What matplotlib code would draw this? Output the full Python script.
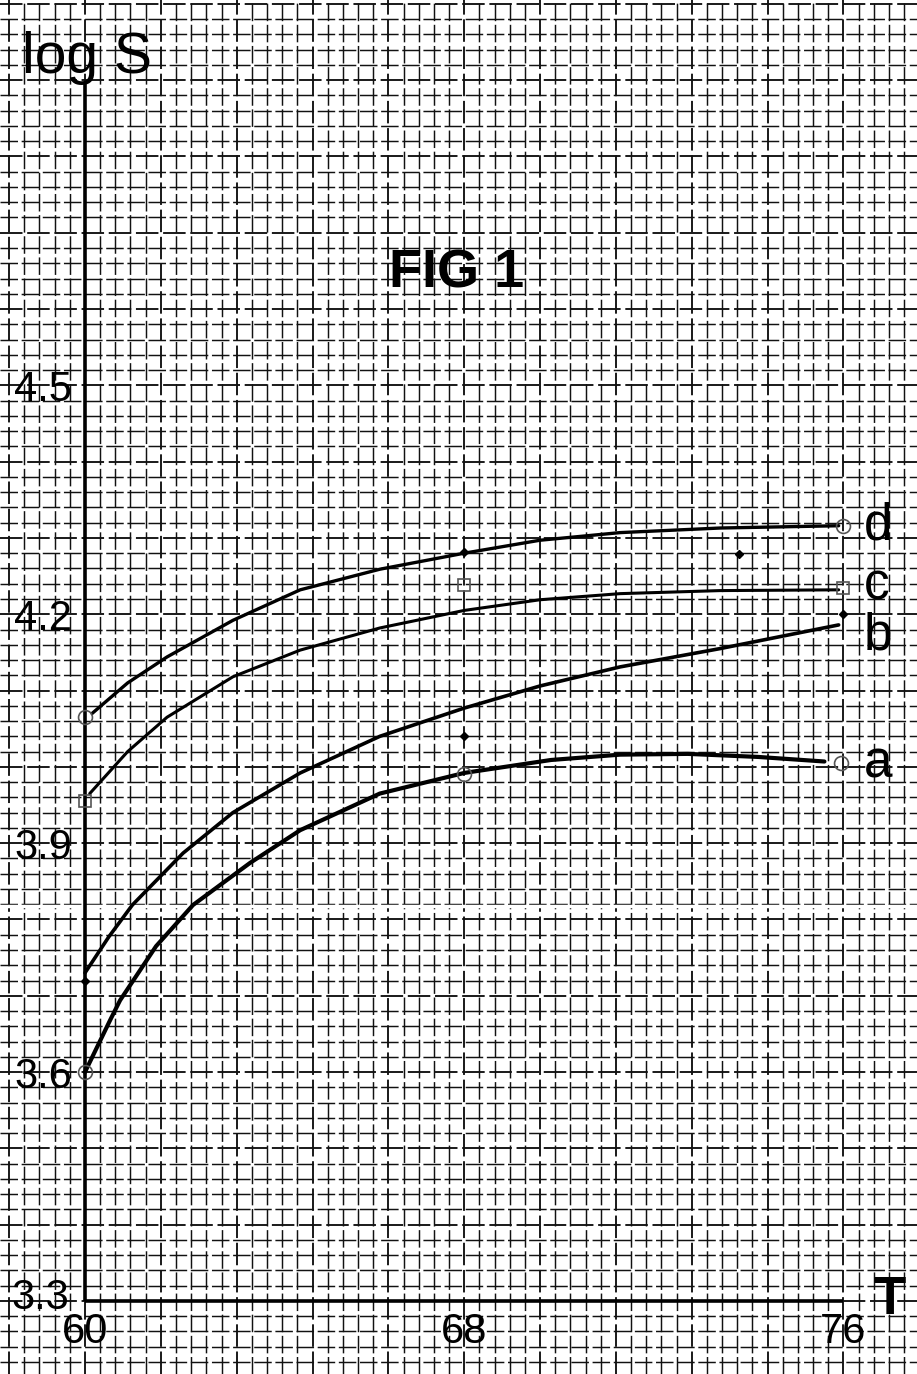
import numpy as np
import matplotlib
matplotlib.use("Agg")
import matplotlib.pyplot as plt

# ---------------- data ----------------
x_ticks = [60, 68, 76]
x_tick_labels = ["60", "68", "76"]
y_ticks = [3.3, 3.6, 3.9, 4.2, 4.5]
y_tick_labels = ["3.3", "3.6", "3.9", "4.2", "4.5"]

curve_names = ["a", "b", "c", "d"]

a_T = [60.0, 60.53, 60.74, 61.5, 62.28, 63.48, 64.54, 66.22, 68.0, 69.83, 71.29, 72.72, 74.2, 75.6]
a_S = [3.60, 3.668, 3.694, 3.765, 3.819, 3.874, 3.917, 3.965, 3.992, 4.009, 4.016, 4.017, 4.013, 4.007]

b_T = [60.0, 60.5, 61.0, 62.07, 63.12, 64.54, 66.22, 68.0, 69.6, 71.29, 73.4, 75.9]
b_S = [3.73, 3.777, 3.819, 3.887, 3.94, 3.992, 4.04, 4.077, 4.106, 4.131, 4.155, 4.186]

c_T = [60.1, 60.9, 61.73, 63.12, 64.54, 66.22, 68.0, 69.6, 71.29, 73.4, 75.9]
c_S = [3.965, 4.02, 4.065, 4.118, 4.153, 4.182, 4.205, 4.219, 4.227, 4.231, 4.232]

d_T = [60.15, 60.9, 61.73, 63.12, 64.54, 66.22, 68.0, 69.6, 71.29, 73.4, 75.9]
d_S = [4.07, 4.11, 4.144, 4.192, 4.232, 4.259, 4.28, 4.297, 4.307, 4.313, 4.316]

# measured points
circle_T = [60.0, 76.0, 60.0, 68.0, 75.95]
circle_S = [4.065, 4.316, 3.60, 3.99, 4.005]
square_T = [60.0, 68.0, 76.0]
square_S = [3.955, 4.238, 4.234]
dot_T = [68.0, 60.0, 68.0, 76.0, 73.8]
dot_S = [4.282, 3.72, 4.04, 4.20, 4.279]

# ---------------- figure ----------------
W, H = 917, 1374
fig = plt.figure(figsize=(W / 100, H / 100), dpi=100)
fig.patch.set_facecolor("white")
ax = fig.add_axes([0, 0, 1, 1])
X0, X1 = 58.207, 77.553
Y0, Y1 = 3.2043, 5.005
ax.set_xlim(X0, X1)
ax.set_ylim(Y0, Y1)
ax.axis("off")

# graph paper
xg_step, yg_step = 0.32, 0.02
k0 = int(np.floor((X0 - 60) / xg_step)) - 1
k1 = int(np.ceil((X1 - 60) / xg_step)) + 1
for k in range(k0, k1 + 1):
    xv = 60 + k * xg_step
    major = (k % 5 == 0)
    ax.axvline(xv, color="#111111", lw=1.35 if major else 1.05,
               ls=(0, (12, 2.5)), zorder=1)
j0 = int(np.floor((Y0 - 3.3) / yg_step)) - 1
j1 = int(np.ceil((Y1 - 3.3) / yg_step)) + 1
for j in range(j0, j1 + 1):
    yv = 3.3 + j * yg_step
    major = (j % 5 == 0)
    ax.axhline(yv, color="#111111", lw=1.35 if major else 1.05,
               ls=(0, (12, 2.5)), zorder=1)

# paper fold artefact
ax.axhline(3.818, color="white", lw=2.5, zorder=1.5)

# axes lines
ax.plot([60, 60], [3.3, 4.898], color="black", lw=2.6, zorder=3, solid_capstyle="butt")
ax.plot([60, 76], [3.3, 3.3], color="black", lw=2.6, zorder=3, solid_capstyle="butt")

# curves
for T, S, lw in [(a_T, a_S, 3.0), (b_T, b_S, 2.6), (c_T, c_S, 2.2), (d_T, d_S, 2.4)]:
    ax.plot(T, S, color="black", lw=lw, zorder=4, solid_capstyle="round",
            solid_joinstyle="round")

ax.plot(circle_T, circle_S, ls="none", marker="o", ms=10, mfc="none",
        mec="#555555", mew=1.2, zorder=5)
ax.plot(square_T, square_S, ls="none", marker="s", ms=9, mfc="none",
        mec="#555555", mew=1.2, zorder=5)
ax.plot(dot_T, dot_S, ls="none", marker="D", ms=4, color="black", zorder=5)

FONT = "Liberation Sans"

def px(x, y):
    return (x / W, 1 - y / H)

# tick labels
for v, lab in zip(y_ticks, y_tick_labels):
    yy = 1301 - (v - 3.3) * 763
    if v == 3.3:
        ax.text(*px(40, 1298), lab, transform=fig.transFigure, ha="center", va="center",
                fontsize=30, family=FONT, zorder=6)
    else:
        ax.text(*px(43, yy + 5), lab, transform=fig.transFigure, ha="center", va="center",
                fontsize=30, family=FONT, zorder=6)
for v, lab in zip(x_ticks, x_tick_labels):
    xx = 85 + (v - 60) * 47.375
    ax.text(*px(xx, 1332), lab, transform=fig.transFigure, ha="center", va="center",
            fontsize=30, family=FONT, zorder=6)

ax.text(*px(22, 58), "log S", transform=fig.transFigure, ha="left", va="center",
        fontsize=41, family=FONT, zorder=6)
ax.text(*px(890, 1300), "T", transform=fig.transFigure, ha="center", va="center",
        fontsize=38, family=FONT, fontweight="bold", zorder=6)
ax.text(*px(457, 274), "FIG 1", transform=fig.transFigure, ha="center", va="center",
        fontsize=39, family=FONT, fontweight="bold", zorder=6)

label_pos = {"d": 540, "c": 600, "b": 649, "a": 777}
for name in curve_names:
    ax.text(*px(864, label_pos[name]), name, transform=fig.transFigure, ha="left",
            va="baseline", fontsize=37, family=FONT, zorder=6)

fig.savefig("out.png", dpi=100, facecolor="white")
